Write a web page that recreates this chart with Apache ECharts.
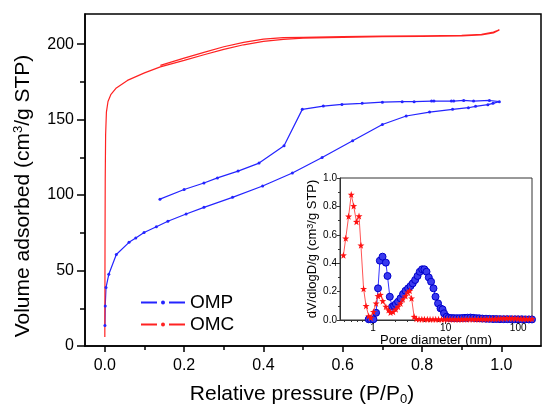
<!DOCTYPE html>
<html>
<head>
<meta charset="utf-8">
<script src="https://cdn.jsdelivr.net/npm/echarts@6/dist/echarts.min.js"></script>
<style>html,body{margin:0;padding:0;background:#fff}#c{width:542px;height:411px}</style>
</head>
<body>
<div id="c"></div>
<script>
// ---- Main isotherm data (P/P0 vs volume adsorbed) ----
const ompAdsP = [0.0003,0.001,0.003,0.01,0.029,0.061,0.078,0.099,0.13,0.159,0.205,0.25,0.322,0.398,0.473,0.548,0.625,0.70,0.76,0.819,0.877,0.917,0.935,0.966,0.979,0.995];
const ompAdsV = [13.6,26.5,38.7,47.5,60.6,68.7,71.5,75.2,79.0,82.7,87.5,91.9,98.5,106.0,114.6,124.9,136.0,146.8,152.4,155.0,156.8,157.9,158.8,159.9,160.8,161.9];
const ompDesP = [0.97,0.93,0.905,0.88,0.874,0.83,0.824,0.78,0.75,0.70,0.649,0.598,0.551,0.498,0.452,0.389,0.336,0.284,0.25,0.2,0.139];
const ompDesV = [162.7,162.3,162.7,162.3,162.3,162.3,162.3,161.9,161.9,161.6,160.8,160.1,159.0,156.8,132.7,121.2,115.9,111.4,108.0,103.7,97.3];

const omcAdsP = [0.0,0.0002,0.0005,0.001,0.002,0.004,0.008,0.015,0.029,0.057,0.1,0.14,0.2,0.25,0.3,0.35,0.4,0.45,0.5,0.6,0.7,0.8,0.9,0.95,0.98,0.995];
const omcAdsV = [6,30,70,110,140,155,162,166.5,171,176,181,185,189.3,193.0,196.6,199.6,201.8,203.2,204.0,204.5,205.0,205.2,205.5,206.2,207.5,209.5];
const omcDesP = [0.98,0.95,0.9,0.8,0.7,0.6,0.5,0.45,0.4,0.35,0.3,0.25,0.2,0.14];
const omcDesV = [208.0,206.5,205.8,205.5,205.3,205.0,204.6,204.3,203.4,201.2,198.3,194.6,190.8,186.0];

// ---- Inset: pore size distribution ----
const omcPoreD = [0.39,0.42,0.46,0.50,0.54,0.59,0.64,0.68,0.74,0.80,0.87,0.93,1.01,1.10,1.17,1.26,1.36,1.50,1.63,1.74,1.89,2.06,2.21,2.39,2.57,2.80,3.01,3.20,3.39,3.68,
  3.95,4.3,4.7,5.1,5.6,6.1,6.7,7.3,8.0,8.8,9.6,10.5,11.5,12.6,13.8,15.1,16.5,18.0,19.7,21.6,23.6,25.8,28.2,30.9,33.8,37.0,40.5,44.3,48.5,53,58,63.5,69.5,76,83,91,99.5,109,119,130,142,155];
const omcPoreV = [0.456,0.575,0.73,0.883,0.803,0.692,0.732,0.526,0.22,0.099,0.028,0.016,0.058,0.117,0.169,0.178,0.134,0.094,0.07,0.052,0.058,0.075,0.094,0.117,0.146,0.169,0.195,0.206,0.153,0.023,
  0.008,0.006,0.006,0.006,0.005,0.005,0.005,0.005,0.005,0.005,0.005,0.005,0.005,0.005,0.005,0.005,0.005,0.006,0.006,0.006,0.006,0.006,0.006,0.007,0.007,0.007,0.008,0.008,0.009,0.010,0.011,0.012,0.013,0.013,0.012,0.011,0.010,0.009,0.009,0.008,0.008,0.008];
const ompPoreD = [0.87,0.93,1.01,1.10,1.17,1.24,1.35,1.50,1.58,1.70,1.83,1.95,2.06,2.21,2.39,2.59,2.80,3.04,3.28,3.52,3.80,4.10,4.40,4.74,5.10,5.45,5.86,6.30,6.80,7.25,7.86,8.50,9.06,9.50,10.3,
  11,12,13,14.2,15.5,17,18.5,20,22,24,26.5,29,32,36,40,45,50,56,63,71,80,90,100,112,125,140,155];
const ompPoreV = [0.005,0.005,0.005,0.051,0.223,0.418,0.446,0.404,0.31,0.164,0.094,0.10,0.113,0.129,0.153,0.183,0.206,0.223,0.239,0.258,0.282,0.31,0.34,0.357,0.357,0.34,0.30,0.27,0.223,0.164,0.117,0.082,0.075,0.047,0.023,
  0.015,0.014,0.013,0.013,0.013,0.014,0.015,0.016,0.017,0.015,0.013,0.012,0.010,0.009,0.008,0.007,0.007,0.006,0.006,0.006,0.005,0.005,0.005,0.005,0.004,0.004,0.004];

// ---- Tick labels ----
const mainXLabels = [0, 0.2, 0.4, 0.6, 0.8, 1.0];
const mainXMinor = [0.1, 0.3, 0.5, 0.7, 0.9];
const mainYLabels = [0, 50, 100, 150, 200];
const mainYMinor = [25, 75, 125, 175];
const insetXLabels = [1, 10, 100];
const insetXMinor = [0.4,0.5,0.6,0.7,0.8,0.9,2,3,4,5,6,7,8,9,20,30,40,50,60,70,80,90];

const pairs = (xs, ys) => xs.map((x, i) => [x, ys[i]]);

const FONT = '"Liberation Sans", Arial, sans-serif';
const BLUE = '#2424ff';
const RED = '#ff2222';
const starPath = 'path://M0,-10L2.35,-3.24L9.51,-3.09L3.8,1.24L5.88,8.09L0,4L-5.88,8.09L-3.8,1.24L-9.51,-3.09L-2.35,-3.24Z';
const axisLine = { show: true, onZero: false, lineStyle: { color: '#000', width: 1.5 } };
const noLine = { show: false, onZero: false };

const chart = echarts.init(document.getElementById('c'), null, { renderer: 'canvas' });
chart.setOption({
  animation: false,
  backgroundColor: '#fff',
  textStyle: { fontFamily: FONT },
  grid: [
    { left: 85, top: 14, right: 1, bottom: 62, show: true, borderColor: '#000', borderWidth: 1.5 },
    { left: 340, top: 178, width: 192, height: 142, show: true, borderColor: '#333', borderWidth: 1, backgroundColor: '#fff' }
  ],
  legend: {
    data: ['OMP', 'OMC'],
    orient: 'vertical', left: 135, top: 288,
    itemWidth: 44, itemHeight: 5, itemGap: 3,
    lineStyle: { type: [16, 12] },
    textStyle: { fontSize: 19, color: '#000', fontFamily: FONT }
  },
  xAxis: [
    { type: 'value', gridIndex: 0, min: -0.05, max: 1.1, position: 'bottom',
      axisLine: axisLine,
      axisTick: { show: true, customValues: mainXLabels, length: 6, lineStyle: { color: '#000', width: 1.5 } },
      axisLabel: { customValues: mainXLabels, formatter: v => v.toFixed(1), fontSize: 16, color: '#000', margin: 12 },
      splitLine: { show: false },
      name: 'Relative pressure (P/P{sub|0})', nameLocation: 'middle', nameGap: 37,
      nameTextStyle: { fontSize: 21, color: '#000', padding: [0, 22, 0, 0], rich: { sub: { fontSize: 13, verticalAlign: 'bottom', padding: [10, 0, 0, 0] } } }
    },
    { type: 'value', gridIndex: 0, min: -0.05, max: 1.1, position: 'bottom',
      axisLine: noLine,
      axisTick: { show: true, customValues: mainXMinor, length: 4, lineStyle: { color: '#000', width: 1.5 } },
      axisLabel: { show: false }, splitLine: { show: false }
    },
    { type: 'log', gridIndex: 1, min: 0.35, max: 155, logBase: 10, position: 'bottom',
      axisLine: { show: true, onZero: false, lineStyle: { color: '#333', width: 1 } },
      axisTick: { show: true, customValues: insetXLabels, length: 4, lineStyle: { color: '#333' } },
      axisLabel: { customValues: insetXLabels, fontSize: 10, color: '#000', margin: 3 },
      splitLine: { show: false },
      name: 'Pore diameter (nm)', nameLocation: 'middle', nameGap: 13,
      nameTextStyle: { fontSize: 13, color: '#000' }
    },
    { type: 'log', gridIndex: 1, min: 0.35, max: 155, logBase: 10, position: 'bottom',
      axisLine: noLine,
      axisTick: { show: true, customValues: insetXMinor, length: 2, lineStyle: { color: '#333' } },
      axisLabel: { show: false }, splitLine: { show: false }
    }
  ],
  yAxis: [
    { type: 'value', gridIndex: 0, min: 0, max: 220, position: 'left',
      axisLine: axisLine,
      axisTick: { show: true, customValues: mainYLabels, length: 8, lineStyle: { color: '#000', width: 1.5 } },
      axisLabel: { customValues: mainYLabels, fontSize: 16, color: '#000', margin: 11 },
      splitLine: { show: false },
      name: 'Volume adsorbed (cm{sup|3}/g STP)', nameLocation: 'middle', nameGap: 51,
      nameTextStyle: { fontSize: 21, color: '#000', padding: [0, 32, 0, 0], rich: { sup: { fontSize: 13, verticalAlign: 'top', padding: [0, 0, 9, 0] } } }
    },
    { type: 'value', gridIndex: 0, min: 0, max: 220, position: 'left',
      axisLine: noLine,
      axisTick: { show: true, customValues: mainYMinor, length: 5, lineStyle: { color: '#000', width: 1.5 } },
      axisLabel: { show: false }, splitLine: { show: false }
    },
    { type: 'value', gridIndex: 1, min: 0, max: 1.0, interval: 0.2, position: 'left',
      axisLine: { show: true, onZero: false, lineStyle: { color: '#333', width: 1 } },
      axisTick: { show: true, length: 3, lineStyle: { color: '#333' } },
      minorTick: { show: true, splitNumber: 2, length: 2, lineStyle: { color: '#333' } },
      axisLabel: { formatter: v => v.toFixed(1), fontSize: 10, color: '#000', margin: 3 },
      splitLine: { show: false },
      name: 'dV/dlogD/g (cm{sup|3}/g STP)', nameLocation: 'middle', nameGap: 20,
      nameTextStyle: { fontSize: 13, color: '#000', rich: { sup: { fontSize: 9, verticalAlign: 'top', padding: [0, 0, 5, 0] } } }
    }
  ],
  series: [
    { name: 'OMP', type: 'line', xAxisIndex: 0, yAxisIndex: 0,
      data: pairs(ompAdsP, ompAdsV).concat(pairs(ompDesP, ompDesV)),
      symbol: 'circle', symbolSize: 3, showSymbol: true,
      lineStyle: { color: BLUE, width: 1.2 }, itemStyle: { color: BLUE }, z: 3 },
    { name: 'OMC', type: 'line', xAxisIndex: 0, yAxisIndex: 0,
      data: pairs(omcAdsP, omcAdsV).concat(pairs(omcDesP, omcDesV)),
      symbol: 'circle', symbolSize: 3, showSymbol: false,
      lineStyle: { color: RED, width: 1.2 }, itemStyle: { color: RED }, z: 3 },
    { name: 'OMP PSD', type: 'line', xAxisIndex: 2, yAxisIndex: 2,
      data: pairs(ompPoreD, ompPoreV),
      symbol: 'circle', symbolSize: 7,
      lineStyle: { color: '#3333ff', width: 1 },
      itemStyle: { color: '#3a3aee', borderColor: '#0000cc', borderWidth: 1 }, z: 4 },
    { name: 'OMC PSD', type: 'line', xAxisIndex: 2, yAxisIndex: 2,
      data: pairs(omcPoreD, omcPoreV),
      symbol: starPath, symbolSize: 7,
      lineStyle: { color: '#ff5555', width: 1 },
      itemStyle: { color: '#ff1111' }, z: 5 }
  ]
});
</script>
</body>
</html>
